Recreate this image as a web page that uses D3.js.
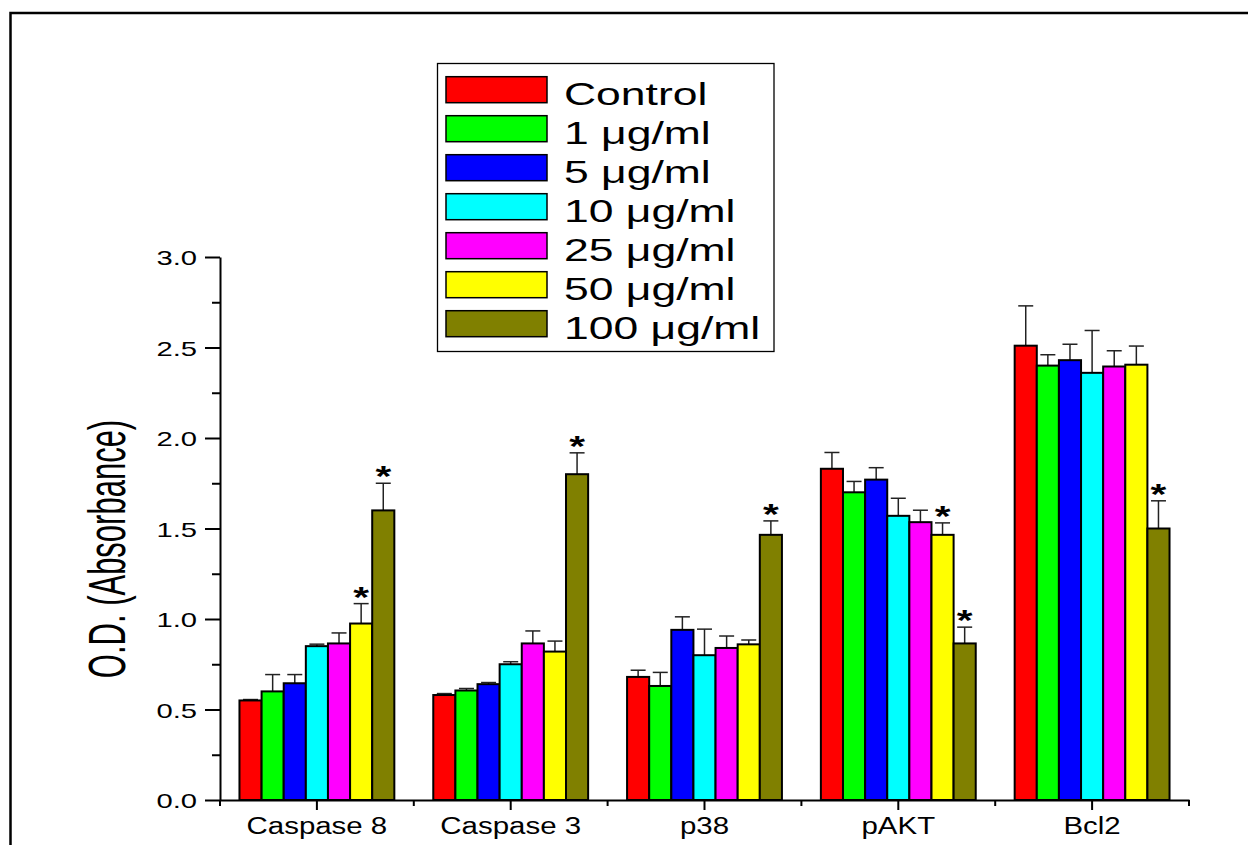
<!DOCTYPE html>
<html>
<head>
<meta charset="utf-8">
<script src="https://d3js.org/d3.v7.min.js"></script>
<style>
  body { margin: 0; background: #fff; }
  text { font-family: "Liberation Sans", Arial, sans-serif; fill: #000; }
</style>
</head>
<body>
<div id="viz"></div>
<script>
var width = 1248,
    height = 845;

var categories = ["Caspase 8", "Caspase 3", "p38", "pAKT", "Bcl2"];
var series = ["Control", "1 \u03bcg/ml", "5 \u03bcg/ml", "10 \u03bcg/ml", "25 \u03bcg/ml", "50 \u03bcg/ml", "100 \u03bcg/ml"];
var colors = ["#ff0000", "#00ff00", "#0000ff", "#00ffff", "#ff00ff", "#ffff00", "#808000"];

// mean O.D. per series, one value per category
var control = [0.55, 0.58, 0.68, 1.83, 2.51];
var ug1     = [0.60, 0.605, 0.63, 1.70, 2.40];
var ug5     = [0.645, 0.64, 0.94, 1.77, 2.43];
var ug10    = [0.85, 0.75, 0.80, 1.57, 2.36];
var ug25    = [0.865, 0.865, 0.84, 1.535, 2.395];
var ug50    = [0.975, 0.82, 0.86, 1.465, 2.405];
var ug100   = [1.60, 1.80, 1.465, 0.865, 1.50];

// upper error (SD)
var control_err = [0.005, 0.008, 0.037, 0.09, 0.22];
var ug1_err     = [0.093, 0.011, 0.075, 0.06, 0.06];
var ug5_err     = [0.048, 0.009, 0.072, 0.066, 0.088];
var ug10_err    = [0.011, 0.014, 0.144, 0.097, 0.234];
var ug25_err    = [0.058, 0.069, 0.066, 0.066, 0.087];
var ug50_err    = [0.11, 0.058, 0.024, 0.066, 0.103];
var ug100_err   = [0.15, 0.118, 0.077, 0.09, 0.153];

// significant bars: [category index, series index]
var stars = [[0, 5], [0, 6], [1, 6], [2, 6], [3, 5], [3, 6], [4, 6]];

var yMajor = [0, 0.5, 1.0, 1.5, 2.0, 2.5, 3.0];
var yMinor = [0.25, 0.75, 1.25, 1.75, 2.25, 2.75];

var values = [control, ug1, ug5, ug10, ug25, ug50, ug100];
var errors = [control_err, ug1_err, ug5_err, ug10_err, ug25_err, ug50_err, ug100_err];

var data = [];
categories.forEach(function(c, ci) {
  series.forEach(function(s, si) {
    data.push({cat: c, ser: s, si: si, value: values[si][ci], err: errors[si][ci],
      star: stars.some(function(p) { return p[0] === ci && p[1] === si; })});
  });
});

var x0 = d3.scaleBand()
  .domain(categories)
  .range([220, 1189]);

var x1 = d3.scaleBand()
  .domain(series)
  .range([0, x0.bandwidth()])
  .paddingOuter(0.88);

var y = d3.scaleLinear()
  .domain([0, 3])
  .range([800, 257]);

var color = d3.scaleOrdinal().domain(series).range(colors);

var svg = d3.select('#viz').append('svg')
  .attr('width', width)
  .attr('height', height);

// outer frame (top and left only visible)
svg.append('path')
  .attr('d', 'M10.5,' + height + 'V13H' + width)
  .attr('fill', 'none')
  .attr('stroke', '#000')
  .attr('stroke-width', 2.5);

// bars
var bar = svg.append('g').selectAll('g')
  .data(data)
  .join('g')
  .attr('transform', d => 'translate(' + (x0(d.cat) + x1(d.ser)) + ',0)');

bar.append('line')
  .attr('x1', x1.bandwidth() / 2)
  .attr('x2', x1.bandwidth() / 2)
  .attr('y1', d => y(d.value))
  .attr('y2', d => y(d.value + d.err))
  .attr('stroke', '#222')
  .attr('stroke-width', 1.5);

bar.append('line')
  .attr('x1', x1.bandwidth() / 2 - 7.5)
  .attr('x2', x1.bandwidth() / 2 + 7.5)
  .attr('y1', d => y(d.value + d.err))
  .attr('y2', d => y(d.value + d.err))
  .attr('stroke', '#222')
  .attr('stroke-width', 1.5);

bar.append('rect')
  .attr('y', d => y(d.value))
  .attr('width', x1.bandwidth())
  .attr('height', d => y(0) - y(d.value))
  .attr('fill', d => color(d.ser))
  .attr('stroke', '#000')
  .attr('stroke-width', 2);

bar.filter(d => d.star).append('text')
  .attr('transform', d => 'translate(' + (x1.bandwidth() / 2) + ',' + (y(d.value + d.err) + 3) + ') scale(1.35,1)')
  .attr('text-anchor', 'middle')
  .attr('font-size', 30)
  .attr('font-weight', 'bold')
  .text('*');

// y axis
var yAxis = svg.append('g')
  .attr('transform', 'translate(220,0)')
  .call(d3.axisLeft(y).tickValues(yMajor).tickSize(15).tickSizeOuter(0).tickFormat(d3.format('.1f')));

yAxis.select('.domain').attr('stroke-width', 2);
yAxis.selectAll('.tick line').attr('stroke-width', 2);
yAxis.selectAll('.tick text')
  .attr('x', null)
  .attr('dy', '0.36em')
  .attr('font-size', 21)
  .attr('font-family', null)
  .attr('transform', 'translate(-23,0) scale(1.39,1)');

svg.append('g')
  .attr('transform', 'translate(220,0)')
  .call(d3.axisLeft(y).tickValues(yMinor).tickSize(8).tickFormat(''))
  .call(g => g.select('.domain').remove())
  .selectAll('.tick line').attr('stroke-width', 2);

// x axis
var xAxis = svg.append('g')
  .attr('transform', 'translate(0,800)')
  .call(d3.axisBottom(x0).tickSize(10).tickSizeOuter(0));

xAxis.select('.domain').attr('stroke-width', 2);
xAxis.selectAll('.tick line').attr('stroke-width', 2);
xAxis.selectAll('.tick text')
  .attr('y', null)
  .attr('dy', null)
  .attr('font-size', 23)
  .attr('font-family', null)
  .attr('transform', 'translate(0,34) scale(1.28,1)');

// small ticks at the group boundaries
xAxis.selectAll('.edge')
  .data(categories.map(c => x0(c)).concat([x0.range()[1]]))
  .join('line')
  .attr('class', 'edge')
  .attr('x1', d => d)
  .attr('x2', d => d)
  .attr('y1', 0)
  .attr('y2', 6)
  .attr('stroke', '#000')
  .attr('stroke-width', 2);

// y title
svg.append('text')
  .attr('transform', 'translate(125,549) rotate(-90) scale(1,1.66)')
  .attr('text-anchor', 'middle')
  .attr('font-size', 31)
  .text('O.D. (Absorbance)');

// legend
var legend = svg.append('g')
  .attr('class', 'chart__legend');

legend.append('rect')
  .attr('x', 437.5)
  .attr('y', 63.5)
  .attr('width', 336.5)
  .attr('height', 288)
  .attr('fill', '#fff')
  .attr('stroke', '#000')
  .attr('stroke-width', 1.3);

var item = legend.selectAll('.item')
  .data(series)
  .join('g')
  .attr('class', 'item')
  .attr('transform', (d, i) => 'translate(446,' + (76.7 + i * 39) + ')');

item.append('rect')
  .attr('width', 101)
  .attr('height', 26)
  .attr('fill', d => color(d))
  .attr('stroke', '#000')
  .attr('stroke-width', 1.5);

item.append('text')
  .attr('transform', 'translate(118,28) scale(1.39,1)')
  .attr('font-size', 32)
  .text(d => d);
</script>
</body>
</html>
